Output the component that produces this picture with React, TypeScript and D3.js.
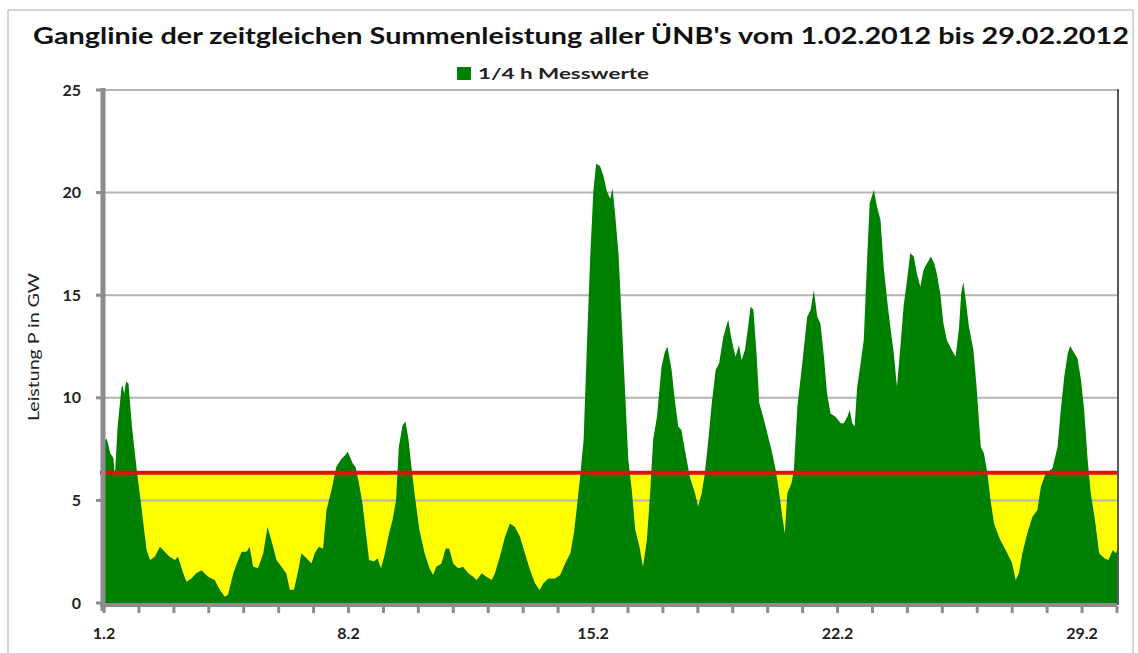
import React from 'react';
import * as d3 from 'd3';

// time in days since 1.2.2012 00:00
const sampleDay = [
  0.0, 0.08, 0.18, 0.27, 0.31, 0.39, 0.5, 0.53, 0.58, 0.63, 0.7, 0.8, 0.93,
  1.07, 1.22, 1.32, 1.45, 1.6, 1.74, 1.88, 2.03, 2.12, 2.27, 2.36, 2.5, 2.64, 2.79, 2.98,
  3.17, 3.32, 3.46, 3.55, 3.7, 3.84, 3.94, 4.08, 4.17, 4.27, 4.41, 4.56, 4.68, 4.79, 4.94,
  5.08, 5.22, 5.32, 5.44, 5.56, 5.65, 5.8, 5.94, 6.03, 6.15, 6.27, 6.37, 6.51, 6.65, 6.79,
  6.9, 6.98, 7.12, 7.2, 7.3, 7.4, 7.5, 7.59, 7.73, 7.83, 7.93, 8.02, 8.16, 8.26, 8.36,
  8.44, 8.55, 8.63, 8.72, 8.79, 8.89, 9.03, 9.18, 9.32, 9.42, 9.51, 9.66, 9.78, 9.88,
  10.0, 10.14, 10.28, 10.43, 10.57, 10.67, 10.81, 10.95, 11.1, 11.19, 11.33, 11.48, 11.62,
  11.76, 11.91, 12.05, 12.2, 12.34, 12.47, 12.58, 12.72, 12.91, 13.06, 13.2, 13.35, 13.45,
  13.54, 13.64, 13.73, 13.83, 13.92, 14.01, 14.09, 14.2, 14.3, 14.39, 14.49, 14.56, 14.63,
  14.73, 14.82, 14.92, 15.01, 15.11, 15.21, 15.33, 15.43, 15.54, 15.64, 15.72, 15.83, 15.96,
  16.05, 16.13, 16.25, 16.34, 16.44, 16.53, 16.63, 16.77, 16.92, 17.01, 17.11, 17.2, 17.3,
  17.39, 17.51, 17.61, 17.73, 17.87, 17.97, 18.08, 18.18, 18.25, 18.35, 18.44, 18.51, 18.59,
  18.68, 18.76, 18.87, 18.99, 19.13, 19.23, 19.32, 19.42, 19.49, 19.56, 19.68, 19.75, 19.85,
  19.99, 20.13, 20.23, 20.32, 20.42, 20.51, 20.61, 20.7, 20.8, 20.94, 21.09, 21.18, 21.28,
  21.35, 21.42, 21.49, 21.56, 21.66, 21.75, 21.85, 21.92, 22.04, 22.13, 22.23, 22.32, 22.42,
  22.51, 22.61, 22.7, 22.8, 22.89, 22.99, 23.08, 23.18, 23.27, 23.37, 23.46, 23.56, 23.67,
  23.77, 23.84, 23.94, 24.03, 24.13, 24.27, 24.38, 24.48, 24.54, 24.6, 24.67, 24.76, 24.89,
  24.98, 25.1, 25.19, 25.29, 25.38, 25.48, 25.62, 25.71, 25.86, 26.0, 26.1, 26.19, 26.29,
  26.43, 26.58, 26.72, 26.82, 26.96, 27.15, 27.3, 27.39, 27.49, 27.59, 27.66, 27.78, 27.87,
  27.97, 28.06, 28.16, 28.25, 28.37, 28.49, 28.64, 28.75, 28.88, 28.97, 29.0,
];

// summed power of all TSOs, GW
const powerGW = [
  7.9, 8.0, 7.3, 7.07, 6.15, 8.6, 10.5, 10.6, 10.2, 10.8, 10.7, 8.6, 6.6,
  4.7, 2.58, 2.1, 2.26, 2.74, 2.5, 2.26, 2.1, 2.26, 1.45, 1.04, 1.2, 1.45, 1.6, 1.28,
  1.12, 0.63, 0.31, 0.4, 1.45, 2.1, 2.5, 2.5, 2.74, 1.77, 1.7, 2.42, 3.72, 3.07, 2.1,
  1.77, 1.45, 0.63, 0.66, 1.6, 2.42, 2.18, 1.93, 2.42, 2.74, 2.66, 4.53, 5.5, 6.64, 7.0,
  7.2, 7.37, 6.8, 6.64, 5.83, 4.86, 3.4, 2.1, 2.02, 2.18, 1.69, 2.26, 3.4, 4.04, 5.02,
  7.62, 8.67, 8.84, 7.94, 6.8, 5.35, 3.56, 2.42, 1.69, 1.36, 1.77, 1.93, 2.66, 2.66,
  1.93, 1.69, 1.77, 1.45, 1.28, 1.12, 1.45, 1.28, 1.12, 1.45, 2.26, 3.23, 3.88,
  3.72, 3.23, 2.42, 1.6, 0.96, 0.63, 0.96, 1.2, 1.2, 1.36, 1.93, 2.42, 3.4,
  4.7, 6.32, 7.94, 12.8, 16.9, 20.1, 21.4, 21.3, 20.8, 20.1, 19.7, 20.2, 19.0,
  17.0, 13.8, 10.2, 6.97, 5.5, 3.56, 2.74, 1.77, 3.07, 5.5, 7.94, 9.08, 11.5,
  12.2, 12.5, 11.35, 9.9, 8.6, 8.43, 7.46, 6.15, 5.35, 4.7, 5.35, 6.32, 7.94,
  9.57, 11.35, 11.68, 12.98, 13.8, 12.8, 12.0, 12.57, 11.84, 12.33, 13.47, 14.44, 14.3,
  12.17, 9.73, 9.08, 8.27, 7.3, 6.48, 5.5, 4.2, 3.4, 5.35, 5.83, 6.48, 9.57,
  11.68, 13.95, 14.28, 15.25, 13.95, 13.63, 12.0, 10.2, 9.24, 9.08, 8.76, 8.76, 9.08,
  9.4, 8.76, 8.6, 10.5, 11.68, 12.8, 16.9, 19.48, 20.13, 19.3, 18.66, 16.4, 14.77,
  13.47, 12.17, 10.54, 12.5, 14.44, 15.74, 17.04, 16.9, 16.07, 15.41, 16.23, 16.55, 16.88,
  16.55, 16.07, 15.09, 13.63, 12.8, 12.33, 12.0, 13.47, 15.09, 15.66, 14.77, 13.47, 12.33,
  10.54, 7.62, 7.3, 6.32, 5.02, 3.88, 3.23, 2.91, 2.42, 1.93, 1.12, 1.45, 2.42,
  3.4, 4.2, 4.53, 5.67, 6.32, 6.56, 7.62, 9.4, 11.03, 12.17, 12.52, 12.17, 11.92,
  10.87, 9.4, 6.97, 5.35, 4.04, 2.42, 2.18, 2.1, 2.58, 2.42, 2.6,
];

const threshold = 6.35; // red reference line, GW
const yTicks = [0, 5, 10, 15, 20, 25];
const xLabelDays = [0, 7, 14, 21, 28];
const xLabels = ['1.2', '8.2', '15.2', '22.2', '29.2'];

const W = 1138;
const H = 653;
const font = "'Liberation Sans Narrow', Lato, 'Open Sans', sans-serif";

export default function App() {
  const x = d3.scaleLinear().domain([0, 29]).range([104, 1117]);
  const y = d3.scaleLinear().domain([0, 25]).range([603, 90]);

  const pts: [number, number][] = sampleDay.map((d, i) => [d, powerGW[i]]);

  const greenArea = d3.area<[number, number]>()
    .x(d => x(d[0]))
    .y0(y(0))
    .y1(d => y(d[1]));

  // yellow: gap between the curve and the reference line where below it
  const yellowArea = d3.area<[number, number]>()
    .x(d => x(d[0]))
    .y0(d => y(Math.min(d[1], threshold)))
    .y1(y(threshold));

  const dayTicks = d3.range(0, 30);

  return (
    <svg width={W} height={H} style={{ position: 'absolute', left: 0, top: 0, background: '#fff' }}>
      <rect x={8} y={10} width={1125} height={660} fill="none" stroke="#c8c8c8" strokeWidth={1.5} />

      <text x={581} y={44} textAnchor="middle" fontFamily={font} fontWeight="bold" fontSize={22}
        textLength={1096} lengthAdjust="spacingAndGlyphs" fill="#111">
        Ganglinie der zeitgleichen Summenleistung aller ÜNB's vom 1.02.2012 bis 29.02.2012
      </text>

      {/* legend */}
      <rect x={457} y={67} width={14} height={13} fill="#008000" />
      <text x={478} y={79} fontFamily={font} fontWeight="bold" fontSize={16}
        textLength={171} lengthAdjust="spacingAndGlyphs" fill="#222">1/4 h Messwerte</text>

      <path d={yellowArea(pts) || ''} fill="#ffff00" />

      {yTicks.filter(t => t > 0).map(t => (
        <line key={t} x1={x(0)} x2={x(29)} y1={y(t)} y2={y(t)} stroke="#b4b4b4" strokeWidth={2} />
      ))}

      <path d={greenArea(pts) || ''} fill="#008000" />

      <line x1={100} x2={x(29)} y1={y(threshold)} y2={y(threshold)} stroke="#e01010" strokeWidth={4} />

      {/* right border of plot */}
      <line x1={x(29) + 1} x2={x(29) + 1} y1={y(25) - 1} y2={y(0) + 2} stroke="#222" strokeWidth={1.5} />

      {/* y axis */}
      <line x1={103} x2={103} y1={y(25) - 2} y2={y(0) + 8} stroke="#8c8c8c" strokeWidth={5} />
      {yTicks.map(t => (
        <g key={t}>
          <line x1={96} x2={103} y1={y(t)} y2={y(t)} stroke="#8c8c8c" strokeWidth={3} />
          <text x={81} y={y(t)} dy="0.35em" textAnchor="end" fontFamily={font} fontWeight="bold"
            fontSize={16} fill="#222">{t}</text>
        </g>
      ))}
      <text transform={`translate(39,347) rotate(-90)`} textAnchor="middle" fontFamily={font}
        fontSize={15} textLength={148} lengthAdjust="spacingAndGlyphs" fill="#222">Leistung P in GW</text>

      {/* x axis */}
      <line x1={100} x2={x(29)} y1={y(0) + 2} y2={y(0) + 2} stroke="#8c8c8c" strokeWidth={4} />
      {dayTicks.map(d => (
        <line key={d} x1={x(d)} x2={x(d)} y1={y(0) + 3} y2={y(0) + 10} stroke="#8c8c8c" strokeWidth={3} />
      ))}
      {xLabelDays.map((d, i) => (
        <text key={d} x={x(d)} y={633} dy="0.35em" textAnchor="middle" fontFamily={font}
          fontWeight="bold" fontSize={16} fill="#222">{xLabels[i]}</text>
      ))}
    </svg>
  );
}
